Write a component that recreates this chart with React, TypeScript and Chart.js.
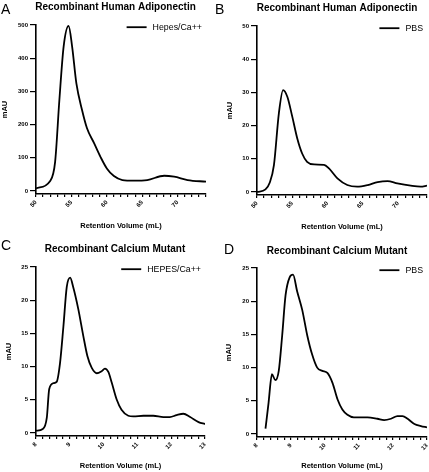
import React, { useEffect, useRef } from "react";
import { Chart, registerables } from "chart.js";

Chart.register(...registerables);

// ---------- DATA ----------
const aVolume = [50.0, 52.0, 52.7, 53.3, 53.9, 54.6, 55.1, 55.7, 56.5, 57.2, 58.2, 59.1, 60.0, 61.0, 62.2, 63.8, 65.7, 68.1, 69.5, 71.4, 74.0];
const aSignal = [8, 30, 88, 274, 435, 497, 435, 324, 244, 189, 144, 103, 68, 45, 33, 31, 33, 46, 43, 33, 28];

const bVolume = [50.0, 51.2, 51.8, 52.4, 53.1, 53.7, 54.3, 55.0, 55.7, 56.4, 57.1, 58.1, 59.5, 60.2, 61.4, 62.8, 64.2, 65.7, 67.1, 68.5, 69.9, 71.8, 73.2, 74.1];
const bSignal = [0, 0.8, 2.8, 8.1, 23.7, 30.7, 28.7, 22.7, 16.2, 11.6, 9.1, 8.3, 8.2, 7.1, 4.1, 2.1, 1.6, 2.1, 3.0, 3.3, 2.6, 1.9, 1.6, 1.9];

const cVolume = [8.0, 8.2, 8.32, 8.39, 8.51, 8.61, 8.71, 8.81, 8.91, 9.01, 9.1, 9.25, 9.4, 9.52, 9.65, 9.8, 9.94, 10.04, 10.14, 10.24, 10.39, 10.53, 10.73, 10.88, 11.18, 11.47, 11.77, 11.96, 12.16, 12.36, 12.56, 12.81, 13.0];
const cSignal = [0.35, 0.6, 2.3, 6.6, 7.5, 7.7, 10.5, 16, 22, 23.4, 22, 18.7, 14.6, 11.6, 9.8, 9.0, 9.3, 9.7, 9.2, 7.6, 5.0, 3.5, 2.6, 2.5, 2.6, 2.6, 2.4, 2.4, 2.7, 2.9, 2.4, 1.65, 1.35];

const dVolume = [8.25, 8.34, 8.44, 8.54, 8.64, 8.74, 8.84, 8.96, 9.06, 9.18, 9.33, 9.48, 9.62, 9.77, 9.92, 10.07, 10.22, 10.37, 10.51, 10.66, 10.85, 11.25, 11.54, 11.74, 11.94, 12.13, 12.28, 12.43, 12.63, 12.82, 13.0];
const dSignal = [0.8, 4.7, 9.0, 8.1, 9.5, 14.8, 20.9, 23.6, 24.0, 21.5, 18.7, 14.8, 12.0, 10.0, 9.5, 9.2, 7.7, 5.2, 3.7, 2.9, 2.5, 2.5, 2.3, 2.1, 2.3, 2.7, 2.7, 2.3, 1.5, 1.2, 1.0];

const panelLetters = ["A", "B", "C", "D"];
const panelTitles = [
  "Recombinant Human Adiponectin",
  "Recombinant Human Adiponectin",
  "Recombinant Calcium Mutant",
  "Recombinant Calcium Mutant",
];
const legendLabels = ["Hepes/Ca++", "PBS", "HEPES/Ca++", "PBS"];
const xAxisTitle = "Retention Volume (mL)";
const yAxisTitle = "mAU";

// ---------- LAYOUT ----------
const FONT = "'Liberation Sans', Arial, Helvetica, sans-serif";

type PanelCfg = {
  volume: number[];
  signal: number[];
  letter: string;
  title: string;
  legend: string;
  box: { left: number; top: number; width: number; height: number };
  area: { left: number; top: number; right: number; bottom: number };
  xMin: number; xMax: number; xStep: number; xMajor: number;
  yMin: number; yMax: number; yStep: number;
  letterPos: [number, number];
  titlePos: [number, number];
  yTitleOffset: number;
  xTitleOffset: number;
};

const panels: PanelCfg[] = [
  {
    volume: aVolume, signal: aSignal, letter: panelLetters[0], title: panelTitles[0], legend: legendLabels[0],
    box: { left: 0, top: 0, width: 214, height: 236 },
    area: { left: 36, top: 25, right: 206, bottom: 194 },
    xMin: 50, xMax: 74, xStep: 1, xMajor: 5, yMin: -9, yMax: 500, yStep: 100,
    letterPos: [1, 14], titlePos: [115.5, 7.5], yTitleOffset: 5.3, xTitleOffset: 10,
  },
  {
    volume: bVolume, signal: bSignal, letter: panelLetters[1], title: panelTitles[1], legend: legendLabels[1],
    box: { left: 214, top: 0, width: 215, height: 236 },
    area: { left: 43, top: 26, right: 213, bottom: 195 },
    xMin: 50, xMax: 74.1, xStep: 1, xMajor: 5, yMin: -0.9, yMax: 50, yStep: 10,
    letterPos: [215, 14], titlePos: [337, 8], yTitleOffset: 16.3, xTitleOffset: 9,
  },
  {
    volume: cVolume, signal: cSignal, letter: panelLetters[2], title: panelTitles[2], legend: legendLabels[2],
    box: { left: 0, top: 236, width: 214, height: 236 },
    area: { left: 36, top: 31, right: 205, bottom: 200 },
    xMin: 8, xMax: 13, xStep: 0.2, xMajor: 1, yMin: -0.45, yMax: 25, yStep: 5,
    letterPos: [1, 250], titlePos: [115, 249.5], yTitleOffset: 9, xTitleOffset: 6,
  },
  {
    volume: dVolume, signal: dSignal, letter: panelLetters[3], title: panelTitles[3], legend: legendLabels[3],
    box: { left: 214, top: 236, width: 215, height: 236 },
    area: { left: 43, top: 32, right: 213, bottom: 201 },
    xMin: 8, xMax: 13, xStep: 0.2, xMajor: 1, yMin: -0.45, yMax: 25, yStep: 5,
    letterPos: [224, 254], titlePos: [337, 251], yTitleOffset: 15.3, xTitleOffset: 6,
  },
];

function Panel({ cfg }: { cfg: PanelCfg }) {
  const ref = useRef<HTMLCanvasElement | null>(null);

  useEffect(() => {
    const canvas = ref.current;
    if (!canvas) return;
    const { box, area } = cfg;

    const decor = {
      id: "decor",
      afterDraw(chart: any) {
        const ctx = chart.ctx as CanvasRenderingContext2D;
        const ca = chart.chartArea;
        ctx.save();
        ctx.fillStyle = "#000";
        // panel letter
        ctx.font = `14px ${FONT}`;
        ctx.textAlign = "left";
        ctx.textBaseline = "alphabetic";
        ctx.fillText(cfg.letter, cfg.letterPos[0] - box.left, cfg.letterPos[1] - box.top);
        // title
        ctx.font = `bold 10px ${FONT}`;
        ctx.textAlign = "center";
        ctx.textBaseline = "middle";
        ctx.fillText(cfg.title, cfg.titlePos[0] - box.left, cfg.titlePos[1] - box.top);
        // legend
        ctx.font = `8.8px ${FONT}`;
        const tw = ctx.measureText(cfg.legend).width;
        const tx = ca.right - 4 - tw;
        const ly = ca.top + 2.2;
        ctx.textAlign = "left";
        ctx.fillText(cfg.legend, tx, ly + 0.5);
        ctx.strokeStyle = "#000";
        ctx.lineWidth = 1.8;
        ctx.beginPath();
        ctx.moveTo(tx - 26, ly);
        ctx.lineTo(tx - 6, ly);
        ctx.stroke();
        ctx.restore();
      },
    };

    const yTickValues: number[] = [];
    for (let v = 0; v <= cfg.yMax + 1e-9; v += cfg.yStep) yTickValues.push(v);

    const chart = new Chart(canvas, {
      type: "line",
      data: {
        datasets: [
          {
            label: cfg.legend,
            data: cfg.volume.map((v, i) => ({ x: v, y: cfg.signal[i] })),
            borderColor: "#000",
            borderWidth: 1.8,
            pointRadius: 0,
            fill: false,
            tension: 0.4,
            cubicInterpolationMode: "monotone",
          },
        ],
      },
      options: {
        responsive: false,
        animation: false,
        devicePixelRatio: 1,
        layout: {
          padding: { top: area.top, right: box.width - area.right, left: 0, bottom: 0 },
        },
        plugins: {
          legend: { display: false },
          title: { display: false },
          tooltip: { enabled: false },
        },
        scales: {
          x: {
            type: "linear",
            min: cfg.xMin,
            max: cfg.xMax,
            afterFit(scale: any) {
              scale.height = box.height - area.bottom;
              scale.paddingLeft = 0;
              scale.paddingRight = 0;
            },
            ticks: {
              stepSize: cfg.xStep,
              autoSkip: false,
              maxRotation: 45,
              minRotation: 45,
              padding: 2,
              color: "#000",
              font: { family: FONT, size: 6, weight: "bold" },
              callback: (value: any) => {
                const v = Number(value);
                const r = Math.round(v / cfg.xMajor) * cfg.xMajor;
                return Math.abs(v - r) < 1e-6 ? String(Math.round(r)) : "";
              },
            },
            grid: {
              display: true,
              drawOnChartArea: false,
              drawTicks: true,
              tickLength: 3,
              color: "#000",
              lineWidth: 1.2,
            },
            border: { display: true, color: "#000", width: 1.6 },
            title: {
              display: true,
              text: xAxisTitle,
              color: "#000",
              font: { family: FONT, size: 7.5, weight: "bold" },
              padding: { top: 0, bottom: cfg.xTitleOffset - 4.5 },
            },
          },
          y: {
            type: "linear",
            min: cfg.yMin,
            max: cfg.yMax,
            afterBuildTicks(scale: any) {
              scale.ticks = yTickValues.map((v) => ({ value: v }));
            },
            afterFit(scale: any) {
              scale.width = area.left;
              scale.paddingTop = 0;
              scale.paddingBottom = 0;
            },
            ticks: {
              padding: 2,
              color: "#000",
              font: { family: FONT, size: 6, weight: "bold" },
            },
            grid: {
              display: true,
              drawOnChartArea: false,
              drawTicks: true,
              tickLength: 6,
              color: "#000",
              lineWidth: 1.2,
            },
            border: { display: true, color: "#000", width: 1.6 },
            title: {
              display: true,
              text: yAxisTitle,
              color: "#000",
              font: { family: FONT, size: 7.5, weight: "bold" },
              padding: { top: cfg.yTitleOffset - 4.5, bottom: 0 },
            },
          },
        },
      } as any,
      plugins: [decor],
    });

    return () => chart.destroy();
  }, [cfg]);

  return (
    <canvas
      ref={ref}
      width={cfg.box.width}
      height={cfg.box.height}
      style={{
        position: "absolute",
        left: cfg.box.left,
        top: cfg.box.top,
        width: cfg.box.width,
        height: cfg.box.height,
        display: "block",
      }}
    />
  );
}

export default function App() {
  return (
    <div
      style={{
        position: "fixed",
        left: 0,
        top: 0,
        width: 429,
        height: 472,
        background: "#fff",
        overflow: "hidden",
      }}
    >
      {panels.map((p, i) => (
        <Panel key={i} cfg={p} />
      ))}
    </div>
  );
}
